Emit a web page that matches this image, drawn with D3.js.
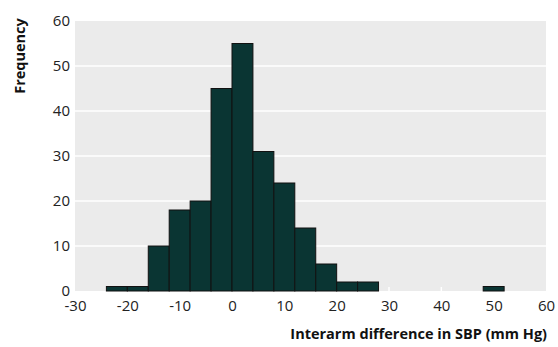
<!DOCTYPE html>
<html>
<head>
<meta charset="utf-8">
<script src="https://cdn.jsdelivr.net/npm/d3@7"></script>
<style>
  body { margin: 0; background: #fff; }
  text { font-family: "Open Sans", "Noto Sans", sans-serif; }
</style>
</head>
<body>
<div id="chart"></div>
<script>
var w = 558, h = 347;

// histogram bins (start of bin, width 4 mm Hg) and counts
var binStarts = [-24, -20, -16, -12, -8, -4, 0, 4, 8, 12, 16, 20, 24, 48];
var counts    = [1, 1, 10, 18, 20, 45, 55, 31, 24, 14, 6, 2, 2, 1];
var binWidth = 4;
var xTicks = [-30, -20, -10, 0, 10, 20, 30, 40, 50, 60];
var yTicks = [0, 10, 20, 30, 40, 50, 60];

var padL = 75, padR = 546, padT = 21, padB = 291;

var x = d3.scaleLinear().domain([-30, 60]).range([padL, padR]);
var y = d3.scaleLinear().domain([0, 60]).range([padB, padT]);

var svg = d3.select("#chart").append("svg")
    .attr("width", w)
    .attr("height", h);

svg.append("rect")
    .attr("x", padL).attr("y", padT)
    .attr("width", padR - padL).attr("height", padB - padT)
    .attr("fill", "#ebebeb");

// gridlines
svg.selectAll("line.grid")
    .data(yTicks.filter(function(d) { return d > 0 && d < 60; }))
  .enter().append("line")
    .attr("class", "grid")
    .attr("x1", padL).attr("x2", padR)
    .attr("y1", function(d) { return y(d); })
    .attr("y2", function(d) { return y(d); })
    .attr("stroke", "#fff")
    .attr("stroke-width", 1.5);

// little white tick marks along the bottom
svg.selectAll("line.xt")
    .data(xTicks.slice(1, -1))
  .enter().append("line")
    .attr("class", "xt")
    .attr("x1", function(d) { return x(d); })
    .attr("x2", function(d) { return x(d); })
    .attr("y1", padB - 4).attr("y2", padB)
    .attr("stroke", "#fff")
    .attr("stroke-width", 1.5);

// bars
svg.selectAll("rect.bar")
    .data(binStarts)
  .enter().append("rect")
    .attr("class", "bar")
    .attr("x", function(d) { return x(d); })
    .attr("width", function(d) { return x(d + binWidth) - x(d); })
    .attr("y", function(d, i) { return y(counts[i]); })
    .attr("height", function(d, i) { return y(0) - y(counts[i]); })
    .attr("fill", "#0a3533")
    .attr("stroke", "#111")
    .attr("stroke-width", 1);

// x axis labels
var xAxis = d3.axisBottom(x).tickValues(xTicks).tickSize(0).tickPadding(9)
    .tickFormat(function(d) { return d; });
var gx = svg.append("g").attr("transform", "translate(0," + padB + ")").call(xAxis);
gx.select(".domain").remove();
gx.selectAll("text").attr("font-size", 15).attr("fill", "#222")
    .style("font-family", "'Open Sans', 'Noto Sans', sans-serif");

// y axis labels
var yAxis = d3.axisLeft(y).tickValues(yTicks).tickSize(0).tickPadding(5);
var gy = svg.append("g").attr("transform", "translate(" + padL + ",0)").call(yAxis);
gy.select(".domain").remove();
gy.selectAll("text").attr("font-size", 15).attr("fill", "#222")
    .style("font-family", "'Open Sans', 'Noto Sans', sans-serif");

// titles
svg.append("text")
    .attr("x", 547).attr("y", 339)
    .attr("text-anchor", "end")
    .attr("font-size", 14.5).attr("font-weight", "bold").attr("fill", "#111")
    .text("Interarm difference in SBP (mm Hg)");

svg.append("text")
    .attr("transform", "translate(25,56) rotate(-90)")
    .attr("text-anchor", "middle")
    .attr("font-size", 14.5).attr("font-weight", "bold").attr("fill", "#111")
    .text("Frequency");
</script>
</body>
</html>
